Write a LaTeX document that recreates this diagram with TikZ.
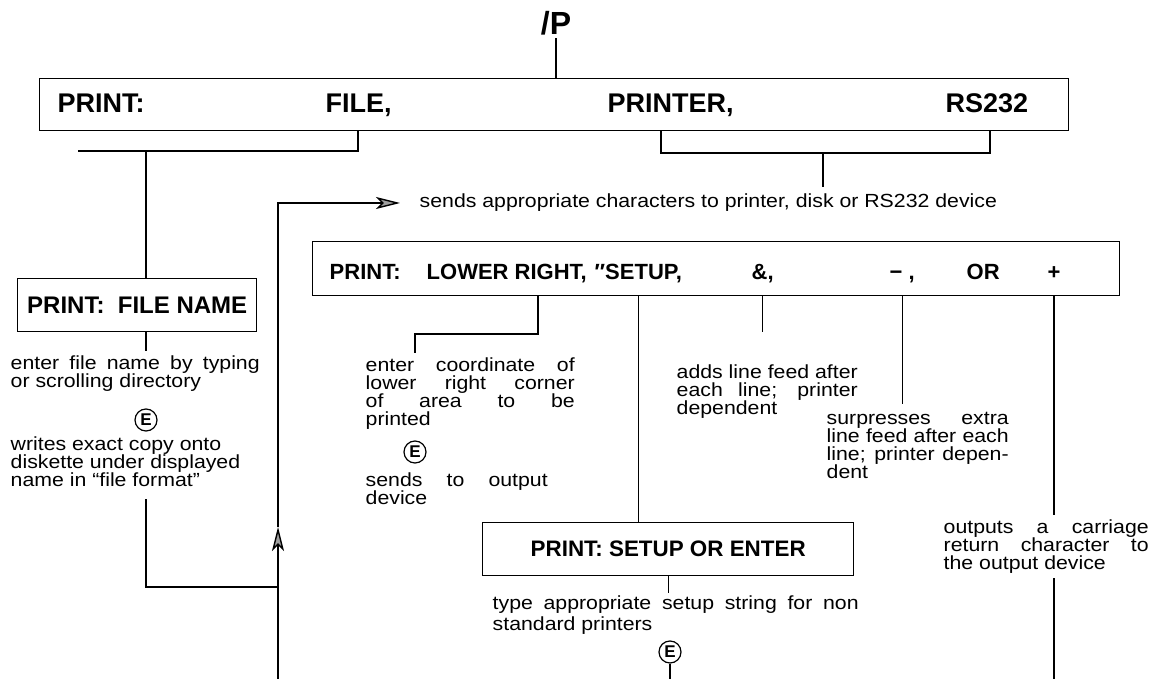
\documentclass[tikz,border=0pt]{standalone}
\usepackage{fontspec}
\setmainfont{Liberation Sans}
\newfontfamily\notefont[FakeStretch=1.12]{Liberation Sans}
\usetikzlibrary{arrows.meta}
\setlength{\lineskiplimit}{-100pt}
\setlength{\normallineskiplimit}{-100pt}
\newcommand{\notesize}{\notefont\fontsize{9.5}{9}\selectfont\setlength{\lineskiplimit}{-100pt}}

\begin{document}
\begin{tikzpicture}[x=0.5pt, y=-0.5pt, line width=0.7pt,
  box/.style={draw, inner sep=0pt, anchor=north west},
  lbl/.style={font=\bfseries\fontsize{13.5}{13.5}\selectfont, anchor=base west, inner sep=0pt},
  optlbl/.style={font=\bfseries\fontsize{11}{11}\selectfont, anchor=base west, inner sep=0pt},
  note/.style={font=\notesize, anchor=north west, inner sep=0pt, align=left},
  jnote/.style={note, align=justify},
  ecirc/.style={draw, circle, minimum size=11pt, inner sep=0pt, line width=0.6pt, font=\bfseries\fontsize{8.5}{8.5}\selectfont},
  arrow/.style={-{Stealth[length=12pt, width=6pt, inset=3pt, fill=gray!75]}}]
\useasboundingbox (0,0) rectangle (1151,679);
\coordinate (floor) at (0,679);
\node[font=\bfseries\fontsize{16}{16}\selectfont, anchor=base, inner sep=1pt] (cmd) at (556,35) {/P};
\node[box, minimum width=514.5pt, minimum height=26pt] (cmdbox) at (39,78) {};
\node[lbl] (prt) at (57,113) {PRINT:};
\node[lbl] (fil) at (325,113) {FILE,};
\node[lbl] (ptr) at (607,113) {PRINTER,};
\node[lbl] (rs) at (945,113) {RS232};
\draw (cmd.south) -- (cmd |- cmdbox.north);
\coordinate (fileR) at (358,151); \coordinate (fileL) at (78,151); \coordinate (fnjoin) at (146,151);
\draw (fileR |- cmdbox.south) -- (fileR) -- (fileL);
\coordinate (devL) at (661,153); \coordinate (devR) at (990,153); \coordinate (devjoin) at (823,153);
\draw (devL |- cmdbox.south) -- (devL) -- (devR) -- (devR |- cmdbox.south);
\node[note, anchor=west, inner xsep=9.5pt] (sends) at (400,203) {sends appropriate characters to printer, disk or RS232 device};
\draw[shorten >=3pt] (devjoin) -- (devjoin |- sends.north);
\node[box, minimum width=119.5pt, minimum height=26.5pt, font=\bfseries\fontsize{12}{12}\selectfont] (fnbox) at (17,278) {PRINT:\ \ FILE NAME};
\draw (fnjoin) -- (fnjoin |- fnbox.north);
\node[jnote, text width=124.5pt] (fnhelp) at (10,355) {enter file name by typing\linebreak or scrolling directory};
\draw[shorten >=2pt] (fnjoin |- fnbox.south) -- (fnjoin |- fnhelp.north);
\node[ecirc] (e1) at (146,420) {E};
\node[note] (fndone) at (10,436) {writes exact copy onto\\diskette under displayed\\name in “file format”};
\coordinate (loopup) at (278,527); \coordinate (fnback) at (146,587);
\draw[shorten <=6pt] (fnback |- fndone.south) -- (fnback) -- (fnback -| loopup);
\draw[arrow] (loopup |- floor) -- (loopup);
\draw[arrow] (loopup) |- (sends.west);
\node[box, minimum width=403.5pt, minimum height=27pt] (optbox) at (312,241) {};
\node[optlbl] (optprt) at (329,279) {PRINT:};
\node[optlbl] (lowright) at (426,279) {LOWER RIGHT,};
\node[optlbl] (setup) at (594,279) {″SETUP,};
\node[optlbl] (amp) at (751,279) {\&,};
\node[optlbl] (minus) at (889,279) {− ,};
\node[optlbl] (orword) at (966,279) {OR};
\node[optlbl] (plus) at (1047,279) {+};
\node[jnote, text width=104.5pt] (coord) at (365,357) {enter coordinate of\linebreak lower right corner\linebreak of area to be\linebreak printed};
\coordinate (lrtap) at (538,334); \coordinate (lrturn) at (415,334);
\draw[shorten >=2pt] (lrtap |- optbox.south) -- (lrtap) -- (lrturn) -- (lrturn |- coord.north);
\node[ecirc] (e2) at (415,452) {E};
\node[jnote, text width=91pt] (sendout) at (365,472) {sends to output\linebreak device};
\node[box, minimum width=185.5pt, minimum height=26.5pt, font=\bfseries\fontsize{11.2}{11.2}\selectfont] (setupbox) at (482,522) {PRINT: SETUP OR ENTER};
\draw (setup |- optbox.south) -- (setup |- setupbox.north);
\node[jnote, text width=183pt, font=\notefont\fontsize{9.5}{10.5}\selectfont] (typehelp) at (492,595) {type appropriate setup string for non\linebreak standard printers};
\draw[shorten >=1pt] (setupbox.south) -- (setupbox.south |- typehelp.north);
\node[ecirc] (e3) at (670,652) {E};
\draw (e3.south) -- (e3 |- floor);
\node[jnote, text width=90.5pt] (adds) at (676,364) {adds line feed after\linebreak each line; printer\linebreak dependent};
\draw[shorten >=16pt] (amp |- optbox.south) -- (amp |- adds.north);
\node[jnote, text width=91pt] (supp) at (826,412) {surpresses extra\linebreak line feed after each\linebreak line; printer depen-\linebreak dent};
\draw[shorten >=4pt] (minus |- optbox.south) -- (minus |- supp.north);
\node[jnote, text width=102.5pt] (outp) at (943,519) {outputs a carriage\linebreak return character to\linebreak the output device};
\draw[shorten >=2pt] (plus |- optbox.south) -- (plus |- outp.north);
\draw[shorten <=2pt] (plus |- outp.south) -- (plus |- floor);
\end{tikzpicture}
\end{document}
